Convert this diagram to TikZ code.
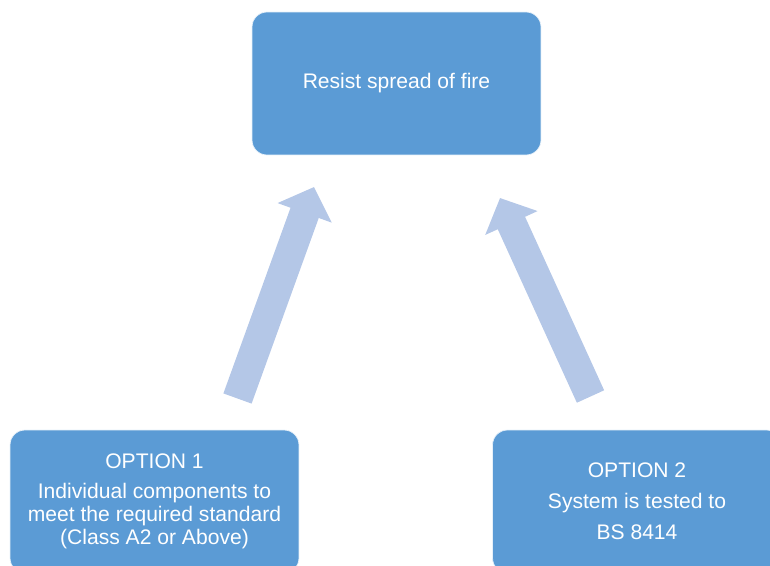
\documentclass[tikz,border=0pt]{standalone}
\usepackage{fontspec}
\setmainfont{Liberation Sans}
\usepackage{xcolor}
\usetikzlibrary{arrows.meta}
\definecolor{boxblue}{HTML}{5B9BD5}
\definecolor{arrowblue}{HTML}{B4C7E7}

\begin{document}
\begin{tikzpicture}[
        x=0.02cm, y=-0.02cm,
        block/.style={draw=white!85!boxblue, line width=0.4pt, fill=boxblue, rounded corners=0.3cm, minimum width=5.78cm, minimum height=2.86cm, align=center, text=white, inner sep=0pt},
        bigarrow/.style={-{Triangle[width=1.12cm, length=0.55cm]}, line width=0.6cm, draw=arrowblue}
    ]
        \useasboundingbox (0, 0) rectangle (770, 565);
        \clip (0, 0) rectangle (770, 565);

        % Goal
        \node[block, font=\fontsize{12}{14}\selectfont] (goal) at (396.5, 83.5) {Resist spread of fire};

        % Option 1
        \node[block, font=\fontsize{12}{13.2}\selectfont] (opt1) at (154.5, 501.5) {OPTION 1\\[4pt]
            Individual components to\\
            meet the required standard\\
            (Class A2 or Above)};

        % Option 2
        \node[block, font=\fontsize{12}{17.6}\selectfont] (opt2) at (637, 501.5) {OPTION 2\\
            System is tested to\\
            BS 8414};

        % Arrows
        \coordinate (t1) at (237.5, 398.5);
        \coordinate (h1) at (314, 187);
        \coordinate (t2) at (590.5, 396.5);
        \coordinate (h2) at (500, 198);
        \draw[bigarrow] (t1) -- (h1);
        \draw[bigarrow] (t2) -- (h2);
    \end{tikzpicture}
\end{document}
